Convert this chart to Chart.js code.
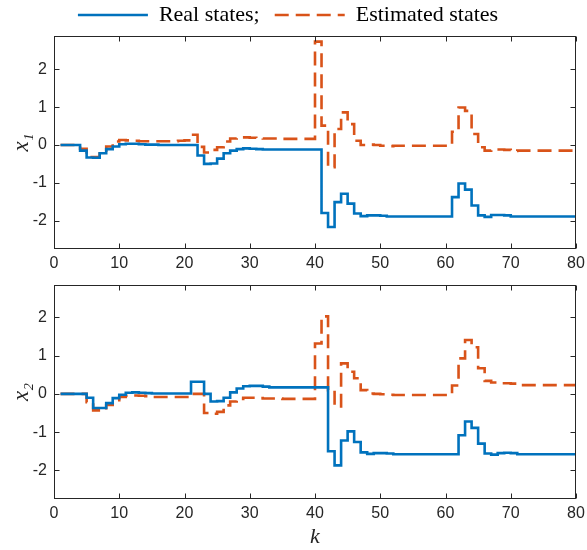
<!DOCTYPE html>
<html>
<head>
<meta charset="utf-8">
<script src="https://cdn.jsdelivr.net/npm/chart.js@4.4.1/dist/chart.umd.min.js"></script>
<style>
  html, body { margin: 0; padding: 0; background: #fff; }
  #wrap { position: relative; width: 587px; height: 550px; }
  .pane { position: absolute; left: 0; width: 587px; height: 275px; }
  #top { top: 0; }
  #bottom { top: 275px; }
</style>
</head>
<body>
<div id="wrap">
  <div class="pane" id="top"><canvas id="c1" width="587" height="275"></canvas></div>
  <div class="pane" id="bottom"><canvas id="c2" width="587" height="275"></canvas></div>
</div>
<script>
// sample index k
const k = [1, 2, 3, 4, 5, 6, 7, 8, 9, 10, 11, 12, 13, 14, 15, 16, 17, 18, 19, 20,
  21, 22, 23, 24, 25, 26, 27, 28, 29, 30, 31, 32, 33, 34, 35, 36, 37, 38, 39, 40,
  41, 42, 43, 44, 45, 46, 47, 48, 49, 50, 51, 52, 53, 54, 55, 56, 57, 58, 59, 60,
  61, 62, 63, 64, 65, 66, 67, 68, 69, 70, 71, 72, 73, 74, 75, 76, 77, 78, 79, 80];

// x1: real and estimated
const x1Real = [0, 0, 0, -0.15, -0.33, -0.34, -0.22, -0.11, -0.04, 0.02,
  0.03, 0.03, 0.02, 0.01, 0.01, 0, 0, 0, 0, 0,
  0, -0.28, -0.5, -0.49, -0.36, -0.22, -0.15, -0.11, -0.09, -0.1,
  -0.11, -0.12, -0.12, -0.12, -0.12, -0.12, -0.12, -0.12, -0.12, -0.12,
  -1.8, -2.17, -1.51, -1.29, -1.55, -1.81, -1.88, -1.86, -1.86, -1.87,
  -1.89, -1.89, -1.89, -1.89, -1.89, -1.89, -1.89, -1.89, -1.89, -1.89,
  -1.38, -1.02, -1.18, -1.6, -1.86, -1.9, -1.85, -1.85, -1.86, -1.89,
  -1.89, -1.89, -1.89, -1.89, -1.89, -1.89, -1.89, -1.89, -1.89, -1.89];
const x1Est = [0, 0, 0, -0.1, -0.32, -0.32, -0.15, -0.04, 0.09, 0.13,
  0.12, 0.11, 0.1, 0.1, 0.1, 0.1, 0.1, 0.1, 0.11, 0.12,
  0.27, -0.05, -0.2, -0.13, -0.06, 0.09, 0.17, 0.2, 0.2, 0.19,
  0.18, 0.17, 0.17, 0.17, 0.16, 0.16, 0.16, 0.16, 0.16, 2.73,
  0.51, -0.59, 0.42, 0.86, 0.55, 0.11, 0, 0.01, 0, -0.02,
  -0.03, -0.02, -0.02, -0.02, -0.02, -0.02, -0.02, -0.02, -0.02, -0.02,
  0.35, 0.99, 0.9, 0.29, -0.06, -0.15, -0.12, -0.12, -0.13, -0.16,
  -0.15, -0.15, -0.15, -0.15, -0.15, -0.15, -0.15, -0.15, -0.15, -0.15];

// x2: real and estimated
const x2Real = [0, 0, 0, 0, -0.1, -0.37, -0.37, -0.24, -0.11, -0.02,
  0.03, 0.04, 0.03, 0.02, 0.01, 0.01, 0.01, 0.01, 0.01, 0.01,
  0.32, 0.32, 0, -0.2, -0.19, -0.1, 0.04, 0.14, 0.2, 0.21,
  0.21, 0.19, 0.17, 0.17, 0.17, 0.17, 0.17, 0.17, 0.17, 0.17,
  0.17, -1.5, -1.87, -1.22, -0.98, -1.26, -1.53, -1.57, -1.55, -1.55,
  -1.56, -1.58, -1.58, -1.58, -1.58, -1.58, -1.58, -1.58, -1.58, -1.58,
  -1.58, -1.08, -0.72, -0.89, -1.3, -1.56, -1.59, -1.55, -1.54, -1.55,
  -1.58, -1.58, -1.58, -1.58, -1.58, -1.58, -1.58, -1.58, -1.58, -1.58];
const x2Est = [0, 0, 0, 0, -0.22, -0.43, -0.43, -0.29, -0.2, -0.08,
  -0.05, -0.04, -0.05, -0.06, -0.08, -0.08, -0.08, -0.08, -0.08, -0.08,
  0, 0, -0.5, -0.52, -0.47, -0.3, -0.2, -0.13, -0.1, -0.1,
  -0.11, -0.12, -0.12, -0.12, -0.13, -0.13, -0.13, -0.13, -0.13, 1.32,
  2.03, 0.1, -0.33, 0.8, 0.58, 0.41, 0.1, 0.01, 0, -0.01,
  -0.02, -0.03, -0.03, -0.03, -0.03, -0.03, -0.03, -0.03, -0.03, -0.03,
  0.22, 0.93, 1.41, 1.22, 0.67, 0.34, 0.3, 0.28, 0.28, 0.27,
  0.23, 0.23, 0.23, 0.23, 0.23, 0.23, 0.23, 0.23, 0.23, 0.23];

const xTicks = [0, 10, 20, 30, 40, 50, 60, 70, 80];
const yTicks = [-2, -1, 0, 1, 2];
const seriesNames = ['Real states;', 'Estimated states'];

const BLUE = '#0072BD';
const RED = '#D95319';
const AXIS = '#262626';

// MATLAB-like box with inward ticks on all four sides
const boxTicks = {
  id: 'boxTicks',
  afterDatasetsDraw(chart) {
    const { ctx, chartArea: a, scales } = chart;
    const L = Math.round(a.left) + 0.5, R = Math.round(a.right) - 0.5;
    const T = Math.round(a.top) + 0.5, B = Math.round(a.bottom) - 0.5;
    ctx.save();
    ctx.strokeStyle = AXIS;
    ctx.lineWidth = 1;
    ctx.strokeRect(L, T, R - L, B - T);
    ctx.beginPath();
    xTicks.forEach(v => {
      const px = Math.round(scales.x.getPixelForValue(v)) + 0.5;
      ctx.moveTo(px, B); ctx.lineTo(px, B - 5);
      ctx.moveTo(px, T); ctx.lineTo(px, T + 5);
    });
    yTicks.forEach(v => {
      const py = Math.round(scales.y.getPixelForValue(v)) + 0.5;
      ctx.moveTo(L, py); ctx.lineTo(L + 5, py);
      ctx.moveTo(R, py); ctx.lineTo(R - 5, py);
    });
    ctx.stroke();
    ctx.restore();
  }
};

// legend entries take dash and width from the line datasets
function legendLabels(chart) {
  const items = Chart.defaults.plugins.legend.labels.generateLabels(chart);
  items.forEach((it, i) => {
    const ds = chart.data.datasets[i];
    it.lineDash = ds.borderDash || [];
    it.lineWidth = ds.borderWidth;
    it.strokeStyle = ds.borderColor;
    it.fillStyle = ds.borderColor;
  });
  return items;
}

function makeChart(id, real, est, opts) {
  return new Chart(document.getElementById(id), {
    type: 'line',
    data: {
      labels: k,
      datasets: [
        {
          label: seriesNames[0],
          data: real,
          borderColor: BLUE,
          backgroundColor: BLUE,
          borderWidth: 2.6,
          pointRadius: 0,
          stepped: 'before',
          fill: false
        },
        {
          label: seriesNames[1],
          data: est,
          borderColor: RED,
          backgroundColor: RED,
          borderWidth: 2.6,
          borderDash: [14, 7],
          pointRadius: 0,
          stepped: 'before',
          fill: false
        }
      ]
    },
    options: {
      responsive: false,
      animation: false,
      layout: { padding: opts.padding },
      plugins: {
        legend: {
          display: opts.legend,
          position: 'top',
          align: 'center',
          labels: {
            usePointStyle: true,
            pointStyle: 'line',
            pointStyleWidth: 70,
            boxWidth: 70,
            padding: 15,
            color: '#000',
            font: { family: 'Liberation Serif', size: 22 },
            generateLabels: legendLabels
          }
        },
        tooltip: { enabled: false }
      },
      scales: {
        x: {
          type: 'linear',
          min: 0,
          max: 80,
          grid: { display: false, drawTicks: false },
          border: { display: false },
          afterBuildTicks: s => { s.ticks = xTicks.map(v => ({ value: v })); },
          afterFit: s => { s.height = opts.xHeight; s.paddingLeft = 0; s.paddingRight = 0; },
          ticks: {
            padding: 5,
            color: AXIS,
            maxRotation: 0,
            font: { family: 'Liberation Sans', size: 16 }
          },
          title: {
            display: !!opts.xTitle,
            text: opts.xTitle || '',
            color: AXIS,
            padding: { top: 0, bottom: 0 },
            font: { family: 'Liberation Serif', size: 22, style: 'italic' }
          }
        },
        y: {
          min: opts.yMin,
          max: opts.yMax,
          grid: { display: false, drawTicks: false },
          border: { display: false },
          afterBuildTicks: s => { s.ticks = yTicks.map(v => ({ value: v })); },
          afterFit: s => { s.width = 54; s.paddingTop = 0; s.paddingBottom = 0; },
          ticks: {
            padding: 7,
            color: AXIS,
            font: { family: 'Liberation Sans', size: 16 }
          },
          title: {
            display: true,
            text: opts.yTitle,
            color: AXIS,
            padding: { top: 8, bottom: 0 },
            font: { family: 'Liberation Serif', size: 23, style: 'italic' }
          }
        }
      }
    },
    plugins: [boxTicks]
  });
}

makeChart('c1', x1Real, x1Est, {
  legend: true,
  padding: { top: -11, left: 0, right: 11, bottom: 0 },
  xHeight: 26,
  yMin: -2.75, yMax: 2.88,
  yTitle: 'x\u2081'
});

makeChart('c2', x2Real, x2Est, {
  legend: false,
  padding: { top: 10, left: 0, right: 11, bottom: 0 },
  xHeight: 51,
  xTitle: 'k',
  yMin: -2.75, yMax: 2.85,
  yTitle: 'x\u2082'
});
</script>
</body>
</html>
